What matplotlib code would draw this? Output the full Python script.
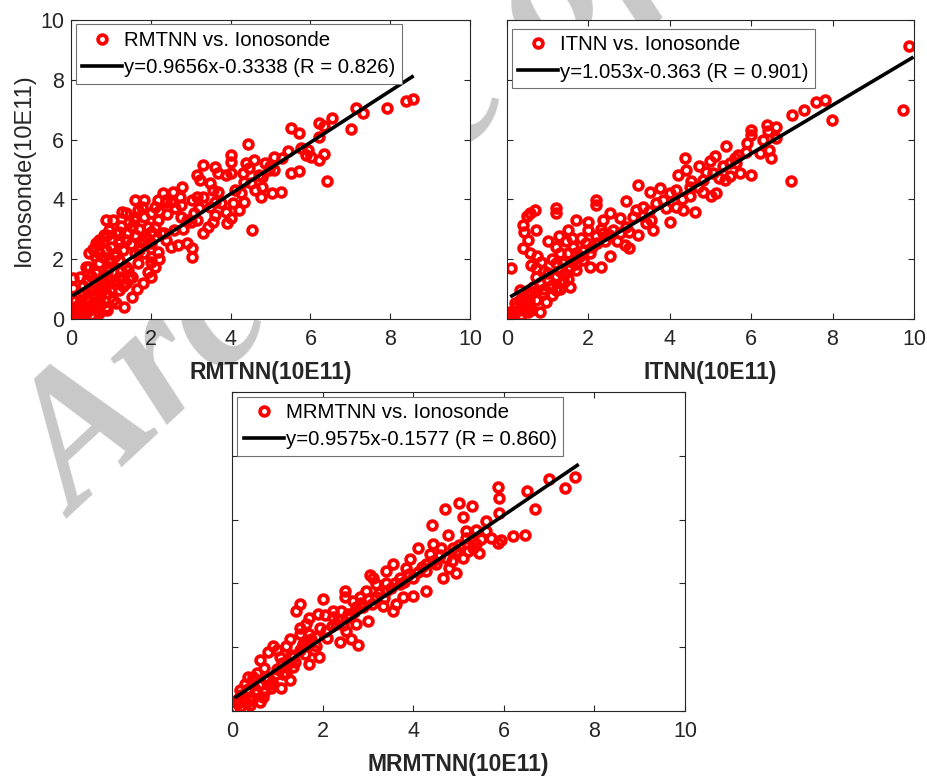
import matplotlib
matplotlib.use("Agg")
import matplotlib.pyplot as plt

plt.rcParams['font.family'] = ['Liberation Sans', 'DejaVu Sans']

# RMTNN vs. Ionosonde (values in 10E11)
rmtnn_x = [8.56, 8.39, 7.93, 7.14, 7.33, 7.03, 6.54, 6.22, 6.34, 6.22, 6.34, 6.22, 6.42, 5.93, 6.01, 5.89, 5.77,
           5.51, 5.71, 5.43, 5.52, 5.71, 5.10, 5.26, 5.03, 4.87, 4.95, 4.79, 5.10, 4.75, 4.62, 4.79, 4.44, 4.01,
           4.01, 4.30, 4.46, 4.58, 4.38, 4.26, 4.21, 4.34, 4.53, 4.50, 4.34, 4.01, 3.89, 3.89, 4.01, 3.91, 4.05,
           3.77, 3.61, 3.69, 3.32, 3.16, 3.24, 3.48, 3.69, 3.56, 3.48, 3.61, 3.56, 3.43, 3.32, 3.16, 3.04, 3.32,
           3.08, 3.16, 3.00, 3.02, 3.02, 2.91, 2.79, 2.73, 2.75, 2.75, 2.67, 2.55, 2.51, 2.38, 2.30, 2.18, 2.10,
           2.51, 2.38, 2.26, 2.18, 2.10, 2.01, 1.93, 2.01, 1.84, 1.93, 1.84, 1.69, 1.77, 1.61, 1.37, 1.29, 1.53,
           1.44, 1.37, 1.04, 0.95, 0.87, 0.71, 0.62, 0.83, 1.12, 1.20, 1.12, 1.53, 1.53, 1.32, 1.12, 1.04, 0.38,
           0.22, 0.06, 0.06, 0.55, 0.71, 0.87, 0.71, 0.46, 0.71, 0.62, 0.95, 1.20, 1.37, 0.06, 0.14, 0.30, 0.46,
           0.62, 0.22, 0.38, 0.55, 0.14, 0.02, 0.22, 0.38, 0.71, 0.30, 0.46, 0.87, 0.62, 1.04, 0.79, 0.95, 1.20,
           1.37, 1.20, 1.77, 1.61, 1.69, 1.44, 1.84, 2.01, 2.10, 2.18, 2.34, 2.59, 2.38, 2.01, 1.84, 1.61, 1.57,
           1.20, 0.87, 0.79, 0.95, 0.71, 0.46, 2.80, 3.20, 3.60, 2.90, 4.10, 4.70, 5.00, 5.30,
           0.15, 0.25, 0.35, 0.45, 0.55, 0.65, 0.75, 0.85, 0.30, 0.40, 0.50, 0.60, 0.80, 0.90, 1.00, 1.10, 1.25,
           1.30, 1.45, 1.00, 1.10, 1.30, 1.50, 1.60, 1.70, 1.00, 0.80, 0.90, 1.25, 1.45, 1.70, 1.90, 2.00, 2.20,
           2.40, 2.60, 2.20, 2.00, 1.80, 1.65, 0.50, 0.70, 0.90, 0.10, 0.20, 0.10, 0.30, 1.20, 0.60, 0.55]
rmtnn_y = [7.36, 7.30, 7.05, 7.05, 6.88, 6.35, 6.71, 6.57, 6.45, 6.10, 5.52, 5.32, 4.63, 5.65, 5.43, 5.48, 5.71,
           6.38, 6.23, 5.63, 4.87, 4.96, 5.43, 4.26, 4.20, 5.21, 4.98, 4.76, 4.98, 4.09, 4.31, 4.43, 5.85, 5.48,
           5.26, 4.87, 5.04, 5.32, 5.21, 4.20, 3.65, 3.92, 2.98, 4.54, 4.59, 4.87, 4.82, 3.59, 3.37, 3.20, 3.87,
           3.87, 5.09, 4.87, 5.15, 4.82, 4.65, 4.54, 4.26, 4.31, 3.76, 3.48, 3.26, 3.09, 2.87, 4.09, 3.98, 4.09,
           3.53, 3.31, 3.26, 2.36, 2.08, 2.53, 4.43, 4.09, 3.81, 3.42, 2.47, 4.26, 3.92, 3.98, 4.20, 3.98, 3.76,
           2.42, 2.64, 2.87, 2.25, 1.75, 1.42, 1.58, 2.08, 2.20, 3.09, 3.42, 3.65, 3.76, 3.42, 3.53, 3.59, 3.09,
           2.87, 2.64, 3.31, 2.98, 3.31, 2.64, 2.53, 2.81, 2.87, 2.64, 2.20, 1.42, 0.75, 0.41, 0.52, 1.19, 1.75,
           1.42, 1.36, 1.03, 0.97, 1.08, 0.86, 0.64, 1.75, 1.86, 1.53, 1.75, 1.97, 1.75, 0.19, 0.25, 0.25, 0.30,
           0.36, 0.47, 0.64, 0.52, 0.08, 0.19, 0.13, 0.19, 0.30, 0.86, 0.97, 0.41, 0.75, 0.64, 1.19, 1.30, 1.42,
           1.19, 0.97, 2.64, 2.20, 1.86, 1.64, 2.53, 2.53, 3.09, 3.31, 2.87, 2.98, 3.92, 3.53, 3.98, 3.98, 3.31,
           2.53, 2.31, 2.08, 1.97, 2.20, 2.20, 3.00, 3.70, 3.90, 3.30, 4.30, 4.80, 5.10, 5.40,
           0.45, 0.65, 0.40, 0.60, 0.80, 0.55, 0.90, 1.10, 1.10, 1.30, 1.45, 1.20, 1.45, 1.60, 1.00, 1.30, 1.60,
           1.10, 1.35, 1.90, 2.10, 2.30, 2.50, 2.80, 3.00, 2.40, 2.60, 2.80, 3.10, 3.25, 2.30, 2.70, 2.90, 3.60,
           3.50, 3.70, 2.00, 1.90, 1.20, 1.00, 0.15, 0.20, 0.30, 0.60, 0.85, 0.35, 0.10, 2.90, 2.10, 2.35]

# ITNN vs. Ionosonde
itnn_x = [9.89, 9.73, 7.99, 7.81, 7.60, 7.31, 7.01, 6.99, 6.62, 6.40, 6.42, 6.60, 6.49, 6.45, 6.21, 6.00, 6.00,
          6.00, 5.88, 5.68, 5.39, 5.63, 5.72, 5.47, 5.35, 5.47, 5.10, 4.98, 4.73, 4.90, 4.37, 4.41, 4.20, 5.14,
          5.02, 4.82, 4.61, 4.32, 4.16, 4.49, 4.53, 4.00, 3.75, 4.00, 3.51, 3.22, 2.93, 3.18, 3.34, 3.55, 3.59,
          3.42, 3.01, 3.22, 3.01, 2.89, 2.77, 2.52, 2.36, 2.19, 2.19, 1.99, 1.99, 2.19, 2.52, 2.32, 1.70, 1.50,
          1.83, 1.62, 1.50, 1.21, 1.29, 1.21, 1.21, 0.68, 0.56, 0.48, 0.39, 0.43, 0.72, 0.52, 0.39, 0.56, 0.11,
          0.84, 0.72, 0.72, 1.00, 1.21, 1.38, 1.54, 1.87, 2.03, 1.70, 0.15, 0.23, 0.07, 0.15, 0.39, 0.56, 0.31,
          0.48, 0.72, 0.88, 1.05, 0.64, 0.31, 1.21, 1.38, 0.80, 0.52, 0.97, 2.36, 2.60, 2.77, 2.93, 3.34, 3.67,
          3.83, 4.16, 4.49, 4.82, 5.06, 5.31, 1.95, 1.70, 1.38, 2.03, 1.54,
          0.20, 0.30, 0.40, 0.45, 0.55, 0.60, 0.70, 0.80, 0.90, 1.00, 1.10, 1.20, 1.30, 1.40, 1.50, 1.60, 1.70,
          1.80, 1.90, 2.10, 2.20, 2.40, 2.50, 2.70, 0.90, 1.10, 1.30, 1.45, 1.10, 1.30, 0.35, 0.60, 1.00, 1.60,
          2.30, 3.10, 3.50, 3.90, 4.30, 4.70, 5.20, 5.60, 5.90, 6.30, 0.75, 0.60]
itnn_y = [9.12, 7.00, 6.66, 7.33, 7.25, 7.00, 6.83, 4.60, 6.42, 6.50, 6.29, 6.05, 5.38, 5.66, 5.55, 6.33, 6.16,
          4.82, 5.60, 5.49, 5.80, 5.21, 4.88, 5.21, 4.65, 4.77, 5.44, 5.27, 5.10, 4.93, 5.40, 4.99, 4.82, 4.21,
          4.10, 4.26, 3.59, 3.65, 3.76, 4.10, 4.60, 3.26, 4.38, 4.21, 4.26, 4.49, 3.93, 3.65, 3.43, 3.31, 2.98,
          3.20, 2.92, 2.81, 2.37, 2.48, 3.37, 3.54, 3.31, 3.98, 3.82, 3.26, 2.98, 2.76, 2.09, 1.75, 3.31, 2.98,
          2.70, 2.42, 2.20, 2.42, 2.76, 3.71, 3.54, 3.65, 3.54, 3.43, 3.15, 2.92, 2.98, 2.65, 2.37, 2.20, 1.70,
          1.92, 1.70, 1.42, 1.53, 1.86, 1.31, 1.08, 1.98, 1.75, 1.64, 0.19, 0.41, 0.25, 0.08, 0.30, 0.41, 0.64,
          0.86, 0.64, 0.86, 1.08, 1.08, 0.97, 0.97, 1.19, 0.25, 0.25, 0.58, 2.87, 2.98, 2.87, 3.09, 3.76, 3.87,
          3.98, 4.32, 4.43, 4.65, 4.88, 5.10, 2.53, 2.20, 1.86, 2.20, 1.75,
          0.55, 0.30, 0.50, 0.70, 0.60, 0.85, 0.95, 1.20, 1.00, 1.30, 1.15, 1.45, 1.60, 1.50, 1.35, 1.90, 1.85,
          2.10, 2.30, 2.40, 2.55, 2.60, 2.80, 2.60, 1.60, 2.00, 2.20, 2.60, 0.80, 1.00, 0.15, 0.30, 2.60, 2.70,
          3.00, 3.40, 3.60, 3.70, 4.00, 4.40, 4.70, 5.40, 5.90, 6.00, 2.10, 1.80]

# MRMTNN vs. Ionosonde
mrmtnn_x = [7.56, 7.36, 7.00, 6.51, 6.68, 6.46, 6.20, 5.87, 5.89, 5.90, 5.94, 5.87, 5.72, 5.01, 5.30, 5.10, 4.71,
            4.42, 4.76, 5.17, 5.39, 5.39, 5.46, 5.32, 5.17, 4.62, 4.87, 5.10, 4.79, 4.65, 4.95, 4.10, 3.92, 4.36,
            4.29, 3.55, 3.04, 4.00, 4.29, 3.77, 3.55, 3.62, 3.33, 3.70, 3.40, 3.18, 2.96, 2.82, 2.74, 3.00, 2.74,
            2.78, 2.63, 2.38, 2.49, 2.49, 2.01, 2.23, 2.41, 2.23, 1.90, 1.49, 1.42, 1.93, 1.71, 1.82, 1.64, 1.27,
            1.49, 0.90, 0.79, 0.61, 1.05, 1.34, 1.12, 1.09, 0.87, 0.46, 0.61, 0.35, 0.10, 0.17, 0.06, 0.24, 0.39,
            0.54, 0.76, 0.98, 1.20, 1.35, 1.49, 1.71, 0.39, 0.13, 0.68, 0.83, 1.27, 0.46, 0.17, 0.28, 2.08, 2.30,
            2.60, 2.89, 3.18, 3.40, 3.70, 4.00, 4.29, 4.43, 4.73, 4.95, 5.32, 5.61, 5.61, 1.86, 1.71, 1.56, 2.52,
            2.67, 3.11, 3.40, 3.84, 4.43,
            0.20, 0.30, 0.45, 0.50, 0.60, 0.70, 0.80, 0.90, 1.00, 1.10, 1.20, 1.30, 1.40, 1.55, 1.60, 1.75, 1.85,
            1.95, 2.10, 2.20, 2.35, 2.45, 2.55, 2.70, 2.85, 3.00, 3.10, 3.25, 3.35, 3.50, 3.60, 3.80, 3.90, 4.10,
            4.20, 4.50, 4.60, 4.85, 5.00, 5.20, 5.50, 1.00, 1.20, 0.70, 0.55, 1.50, 1.70, 2.05, 0.35, 0.15]
mrmtnn_y = [7.34, 7.00, 7.27, 6.88, 6.34, 5.53, 5.48, 7.03, 6.67, 6.20, 5.37, 5.27, 5.43, 6.51, 6.41, 6.07, 6.34,
            5.82, 5.53, 5.63, 5.68, 5.22, 4.96, 5.11, 5.43, 5.11, 5.11, 4.80, 4.49, 4.18, 4.34, 5.11, 4.75, 4.91,
            4.60, 4.60, 4.26, 3.61, 3.77, 3.56, 3.14, 3.35, 3.30, 4.18, 4.02, 3.97, 3.77, 3.56, 3.25, 2.83, 2.73,
            2.06, 2.26, 2.16, 3.77, 3.56, 3.51, 3.14, 3.14, 2.94, 3.04, 3.35, 3.14, 1.69, 1.48, 1.90, 2.73, 2.26,
            2.42, 2.05, 1.85, 1.59, 1.69, 1.38, 1.17, 0.71, 0.71, 0.81, 0.29, 1.07, 0.24, 0.13, 0.08, 0.34, 0.45,
            0.65, 0.96, 1.17, 1.38, 1.69, 1.90, 2.11, 0.19, 0.39, 0.45, 0.86, 0.96, 1.07, 0.65, 0.86, 2.52, 2.73,
            2.94, 3.25, 3.56, 3.77, 3.97, 4.18, 4.39, 4.70, 4.80, 5.01, 5.32, 5.63, 5.94, 2.31, 2.42, 2.11, 2.52,
            3.46, 4.18, 4.39, 4.49, 5.22,
            0.50, 0.25, 0.35, 0.55, 0.80, 0.60, 1.00, 0.85, 1.30, 1.50, 1.20, 1.75, 1.55, 2.00, 1.80, 2.25, 2.05,
            2.60, 2.30, 2.65, 2.85, 2.70, 3.05, 3.10, 3.40, 3.50, 3.35, 3.70, 3.55, 3.85, 4.00, 4.05, 4.30, 4.35,
            4.50, 4.60, 4.90, 4.70, 5.20, 5.00, 5.40, 1.90, 2.05, 1.35, 1.20, 2.60, 2.90, 3.00, 0.70, 0.30]

# fitted lines as drawn (start / end)
rmtnn_fit_x = [0.07, 8.55]
rmtnn_fit_y = [0.80, 8.10]
itnn_fit_x = [0.12, 9.95]
itnn_fit_y = [0.77, 8.73]
mrmtnn_fit_x = [0.09, 7.62]
mrmtnn_fit_y = [0.44, 7.70]

scatter_labels = ['RMTNN vs. Ionosonde', 'ITNN vs. Ionosonde', 'MRMTNN vs. Ionosonde']
fit_labels = ['y=0.9656x-0.3338 (R = 0.826)', 'y=1.053x-0.363 (R = 0.901)', 'y=0.9575x-0.1577 (R = 0.860)']
x_labels = ['RMTNN(10E11)', 'ITNN(10E11)', 'MRMTNN(10E11)']
y_label = 'Ionosonde(10E11)'
ticks = [0, 2, 4, 6, 8, 10]

fig = plt.figure(figsize=(9.27, 7.83), dpi=100)

# watermark behind the axes
fig.text(0.082, 0.338, 'Archive of SID', family='Liberation Serif', fontweight='bold',
         style='italic', fontsize=135, color='#c8c8c8', rotation=43, rotation_mode='anchor',
         ha='left', va='baseline', zorder=-1)

ax1 = fig.add_axes([0.0766, 0.5926, 0.4304, 0.3819])
ax2 = fig.add_axes([0.5469, 0.5926, 0.4390, 0.3819])
ax3 = fig.add_axes([0.2503, 0.0920, 0.4887, 0.4074])

panels = [
    (ax1, rmtnn_x, rmtnn_y, rmtnn_fit_x, rmtnn_fit_y, 0.985),
    (ax2, itnn_x, itnn_y, itnn_fit_x, itnn_fit_y, 0.97),
    (ax3, mrmtnn_x, mrmtnn_y, mrmtnn_fit_x, mrmtnn_fit_y, 0.985),
]

for i, (ax, xs, ys, fx, fy, ltop) in enumerate(panels):
    ax.set_facecolor('white')
    ax.plot(xs, ys, 'o', color='red', mfc='none', mec='red', ms=6.3, mew=2.7,
            label=scatter_labels[i])
    ax.plot(fx, fy, '-', color='black', lw=2.6, label=fit_labels[i])
    ax.set_xlim(0, 10)
    ax.set_ylim(0, 10)
    ax.set_xticks(ticks)
    ax.set_yticks(ticks)
    ax.tick_params(direction='in', top=True, right=True, length=4, width=0.8,
                   labelsize=15.5, colors='#262626')
    ax.tick_params(axis='x', pad=7)
    ax.tick_params(axis='y', pad=5)
    if i > 0:
        ax.set_yticklabels([])
    for s in ax.spines.values():
        s.set_color('#262626')
        s.set_linewidth(0.8)
    ax.set_xlabel(x_labels[i], fontsize=16.5, fontweight='bold', color='#262626', labelpad=8)
    leg = ax.legend(loc='upper left', bbox_to_anchor=(0.012, ltop), fontsize=14.7,
                    fancybox=False, framealpha=1, edgecolor='#707070', handlelength=1.95,
                    handletextpad=0.1, borderpad=0.32, labelspacing=0.4, borderaxespad=0,
                    numpoints=1)
    leg.get_frame().set_linewidth(0.8)

ax1.set_ylabel(y_label, fontsize=17, color='#262626', labelpad=4)

fig.savefig('out.png', dpi=100)
